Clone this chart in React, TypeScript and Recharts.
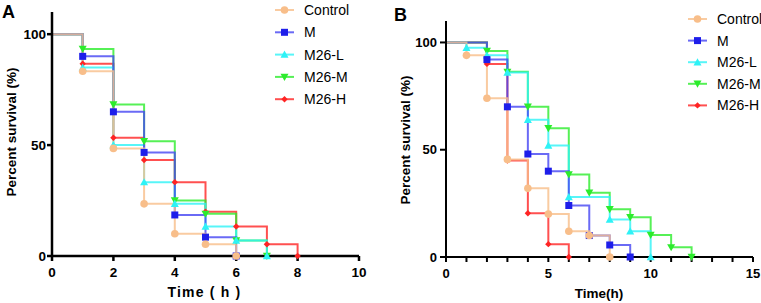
import React from 'react';
import { LineChart, Line, XAxis, YAxis } from 'recharts';

// survival (%) by hour, index = hour; a marker is drawn where the value drops
const groupNames = ['Control', 'M', 'M26-L', 'M26-M', 'M26-H'];

const controlA = [100, 83.3, 48.5, 23.5, 10, 5.3, 0];
const modelA = [100, 90, 65, 46.7, 18.5, 8.5, 0];
const lowA = [100, 85, 50, 33.3, 23.5, 13.3, 7, 0];
const midA = [100, 93.3, 68.3, 51.7, 25, 19, 7, 0];
const highA = [100, 86.7, 53.3, 43.3, 33.3, 20, 13.3, 5.3, 0];

const controlB = [100, 94, 74, 45.5, 32, 20, 12, 10, 0];
const modelB = [100, 100, 92, 70, 48, 40, 24, 10, 5.6, 0];
const lowB = [100, 97.5, 94, 86, 64, 52, 28, 28, 17.5, 12, 0];
const midB = [100, 100, 96, 86.3, 70, 60, 38.5, 30, 22.3, 18.5, 10.3, 4.5, 0];
const highB = [100, 100, 90, 45, 20.4, 6, 0];

const hourTicksA = [0, 2, 4, 6, 8, 10];
const hourTicksB = [0, 1, 2, 3, 4, 5, 6, 7, 8, 9, 10, 11, 12, 13, 14, 15];
const hourLabelsB = [0, 5, 10, 15];
const survivalTicks = [0, 50, 100];

const FONT = '"Liberation Sans", Arial, sans-serif';

type Marker = 'circle' | 'square' | 'triUp' | 'triDown' | 'diamond';

const styles: { color: string; line: string; marker: Marker }[] = [
  { color: '#F8BE8A', line: '#F8BE8A', marker: 'circle' },
  { color: '#1E1EEA', line: '#4545F2', marker: 'square' },
  { color: '#2EF2F6', line: '#2EF2F6', marker: 'triUp' },
  { color: '#2CEC2C', line: '#2CEC2C', marker: 'triDown' },
  { color: '#FF2424', line: '#FF2424', marker: 'diamond' },
];

const toRows = (vals: number[]) => vals.map((v, i) => ({ t: i, v }));

const drawMarker = (kind: Marker, cx: number, cy: number, color: string, key?: string) => {
  switch (kind) {
    case 'circle':
      return <circle key={key} cx={cx} cy={cy} r={3.8} fill={color} />;
    case 'square':
      return <rect key={key} x={cx - 3.5} y={cy - 3.5} width={7} height={7} fill={color} />;
    case 'triUp':
      return <polygon key={key} points={`${cx},${cy - 4} ${cx - 4},${cy + 3.2} ${cx + 4},${cy + 3.2}`} fill={color} />;
    case 'triDown':
      return <polygon key={key} points={`${cx},${cy + 4} ${cx - 4},${cy - 3.2} ${cx + 4},${cy - 3.2}`} fill={color} />;
    default:
      return <polygon key={key} points={`${cx},${cy - 3.2} ${cx + 3.2},${cy} ${cx},${cy + 3.2} ${cx - 3.2},${cy}`} fill={color} />;
  }
};

const makeDot = (vals: number[], kind: Marker, color: string) => (p: any) => {
  const i = p.index;
  const k = `d-${i}`;
  if (i === 0 || vals[i] === vals[i - 1] || p.cx == null || p.cy == null) return <g key={k} />;
  return drawMarker(kind, p.cx, p.cy, color, k);
};

const Panel = ({
  series, width, yAxisWidth, top, right, xHeight, xMax, xTicks, xLabels, axisW, tickFont, xTickMargin, yTickSize, yTickMargin,
}: any) => {
  const order = [4, 3, 2, 1, 0];
  return (
    <LineChart width={width} height={303} margin={{ top, right, bottom: 0, left: 0 }}>
      <XAxis
        type="number"
        dataKey="t"
        domain={[0, xMax]}
        ticks={xTicks}
        interval={0}
        height={xHeight}
        axisLine={{ stroke: '#000', strokeWidth: axisW }}
        tickLine={{ stroke: '#000', strokeWidth: axisW }}
        tickSize={5}
        tickMargin={xTickMargin}
        tick={(p: any) =>
          xLabels.includes(p.payload.value) ? (
            <text x={p.x} y={p.y} dy="0.71em" textAnchor="middle" fill="#000" fontSize={tickFont} fontWeight={700} fontFamily={FONT}>
              {p.payload.value}
            </text>
          ) : (
            <g />
          )
        }
      />
      <YAxis
        type="number"
        domain={[0, 110]}
        ticks={survivalTicks}
        width={yAxisWidth}
        axisLine={{ stroke: '#000', strokeWidth: axisW }}
        tickLine={{ stroke: '#000', strokeWidth: axisW }}
        tickSize={yTickSize}
        tickMargin={yTickMargin}
        tick={{ fill: '#000', fontSize: tickFont, fontWeight: 700, fontFamily: FONT }}
      />
      {order.map((i) => (
        <Line
          key={groupNames[i]}
          data={toRows(series[i])}
          dataKey="v"
          name={groupNames[i]}
          type="stepAfter"
          stroke={styles[i].line}
          strokeOpacity={0.8}
          strokeWidth={2}
          dot={makeDot(series[i], styles[i].marker, styles[i].color)}
          activeDot={false}
          isAnimationActive={false}
        />
      ))}
    </LineChart>
  );
};

const LegendBox = ({ x, y, gap }: { x: number; y: number; gap: number }) => (
  <g>
    {groupNames.map((name, i) => {
      const cy = y + i * gap;
      return (
        <g key={name}>
          <line x1={x} x2={x + 19} y1={cy} y2={cy} stroke={styles[i].line} strokeOpacity={0.8} strokeWidth={2} />
          {drawMarker(styles[i].marker, x + 9.5, cy, styles[i].color)}
          <text x={x + 29} y={cy} dominantBaseline="central" fontSize={14} fontFamily={FONT} fill="#000">
            {name}
          </text>
        </g>
      );
    })}
  </g>
);

export default function App() {
  return (
    <div style={{ position: 'fixed', left: 0, top: 0, width: 761, height: 303, background: '#fff', overflow: 'hidden' }}>
      <div style={{ position: 'absolute', left: 0, top: 0 }}>
        <Panel
          series={[controlA, modelA, lowA, midA, highA]}
          width={380}
          yAxisWidth={52}
          top={12}
          right={21}
          xHeight={47}
          xMax={10}
          xTicks={hourTicksA}
          xLabels={hourTicksA}
          axisW={2.5}
          tickFont={13.5}
          xTickMargin={6}
          yTickSize={5}
          yTickMargin={1}
        />
      </div>
      <div style={{ position: 'absolute', left: 380, top: 0 }}>
        <Panel
          series={[controlB, modelB, lowB, midB, highB]}
          width={381}
          yAxisWidth={66}
          top={21}
          right={8}
          xHeight={46}
          xMax={15}
          xTicks={hourTicksB}
          xLabels={hourLabelsB}
          axisW={2}
          tickFont={13}
          xTickMargin={7}
          yTickSize={6}
          yTickMargin={3}
        />
      </div>
      <svg width={761} height={303} style={{ position: 'absolute', left: 0, top: 0, pointerEvents: 'none' }}>
        <text x={2} y={18} fontSize={18} fontWeight={700} fontFamily={FONT}>A</text>
        <text x={394} y={21} fontSize={18} fontWeight={700} fontFamily={FONT}>B</text>
        <text transform="translate(11,132) rotate(-90)" textAnchor="middle" dominantBaseline="central" fontSize={13.5} fontWeight={700} fontFamily={FONT}>
          Percent survival (%)
        </text>
        <text transform="translate(405,140) rotate(-90)" textAnchor="middle" dominantBaseline="central" fontSize={13.5} fontWeight={700} fontFamily={FONT}>
          Percent survival (%)
        </text>
        <text x={204.5} y={292} textAnchor="middle" dominantBaseline="central" fontSize={14} fontWeight={700} letterSpacing={1.2} fontFamily={FONT}>
          Time ( h )
        </text>
        <text x={599} y={293} textAnchor="middle" dominantBaseline="central" fontSize={13.5} fontWeight={700} fontFamily={FONT}>
          Time(h)
        </text>
        <LegendBox x={275} y={10} gap={22.3} />
        <LegendBox x={688} y={19} gap={21.6} />
      </svg>
    </div>
  );
}
